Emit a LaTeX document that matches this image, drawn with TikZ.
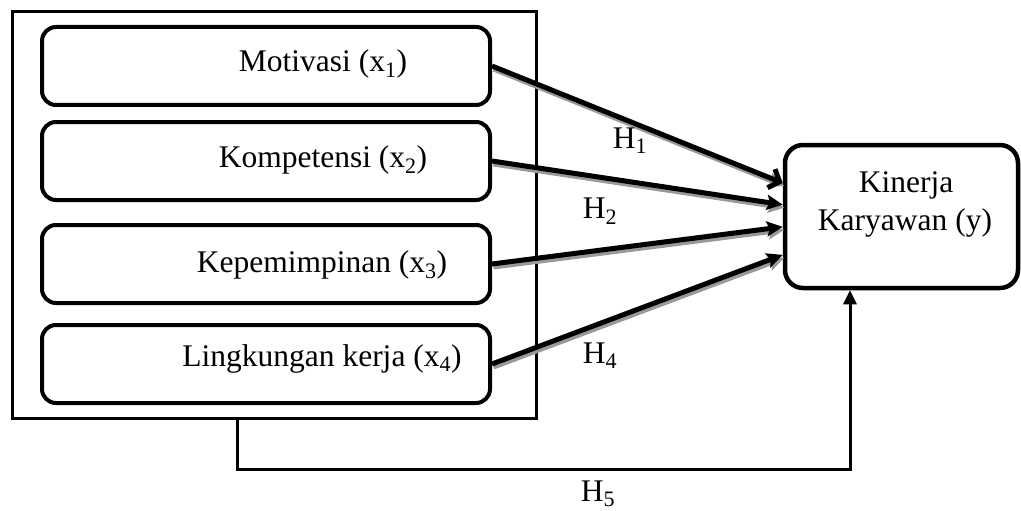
\documentclass[tikz,border=0pt]{standalone}
\usepackage{fontspec}
\setmainfont{Liberation Serif}
\usetikzlibrary{arrows.meta,calc}
\begin{document}
\begin{tikzpicture}[x=1pt,y=-1pt,
  inbox/.style={draw, line width=4pt, rounded corners=14pt, minimum width=448pt, minimum height=78pt, inner sep=0pt},
  outerbox/.style={draw, line width=3pt, minimum width=524pt, minimum height=406pt, inner sep=0pt},
  kbox/.style={draw, line width=4.5pt, rounded corners=18pt, minimum width=233pt, minimum height=143pt, inner sep=0pt},
  lbl/.style={font=\fontsize{31.5}{38}\selectfont, inner sep=0pt, anchor=base},
  harrow/.style={line width=5pt, -{Stealth[length=16pt,width=15pt,inset=3pt]}},
  harrowopen/.style={line width=5pt, -{Straight Barb[length=9pt,width=20pt,line width=5pt]}},
  shadowline/.style={line width=5pt, draw=black!40, -{Stealth[length=16pt,width=15pt,inset=3pt]}},
  h5line/.style={line width=3pt, -{Triangle[length=14pt,width=13pt]}}
]
\useasboundingbox (0,0) rectangle (1021,511);

\node[outerbox] (outer) at (274,215) {};
\node[inbox] (m1) at (266,66) {};
\node[inbox] (m2) at (266,161) {};
\node[inbox] (m3) at (266,264) {};
\node[inbox] (m4) at (266,364) {};
\node[kbox] (k) at (901.5,216.5) {};

\node[lbl] (t1) at (323,72) {Motivasi (x\textsubscript{1})};
\node[lbl] (t2) at (323,167) {Kompetensi (x\textsubscript{2})};
\node[lbl] (t3) at (322,272) {Kepemimpinan (x\textsubscript{3})};
\node[lbl] (t4) at (322,366) {Lingkungan kerja (x\textsubscript{4})};
\node[lbl] (ty1) at (906,192) {Kinerja};
\node[lbl] (ty2) at (905,230) {Karyawan (y)};

\coordinate (k1) at ($(k.north west)!0.273!(k.south west)$);
\coordinate (k2) at ($(k.north west)!0.42!(k.south west)$);
\coordinate (k3) at ($(k.north west)!0.57!(k.south west)$);
\coordinate (k4) at ($(k.north west)!0.76!(k.south west)$);

\begin{scope}[transform canvas={xshift=1.5pt,yshift=-3pt}]
  \draw[shadowline] (m1.east) -- (k1);
  \draw[shadowline] (m2.east) -- (k2);
  \draw[shadowline] (m3.east) -- (k3);
  \draw[shadowline] (m4.east) -- (k4);
\end{scope}
\draw[harrowopen] (m1.east) -- (k1);
\draw[harrow] (m2.east) -- (k2);
\draw[harrow] (m3.east) -- (k3);
\draw[harrow] (m4.east) -- (k4);

\coordinate (p1) at (237,0);
\coordinate (p2) at (850,0);
\draw[h5line] (outer.south -| p1) -- ++(0,50) -| (k.south -| p2);

\node[lbl] (h1) at (630,148) {H\textsubscript{1}};
\node[lbl] (h2) at (600,218) {H\textsubscript{2}};
\node[lbl] (h4) at (600,363) {H\textsubscript{4}};
\node[lbl] (h5) at (598,501) {H\textsubscript{5}};
\end{tikzpicture}
\end{document}
